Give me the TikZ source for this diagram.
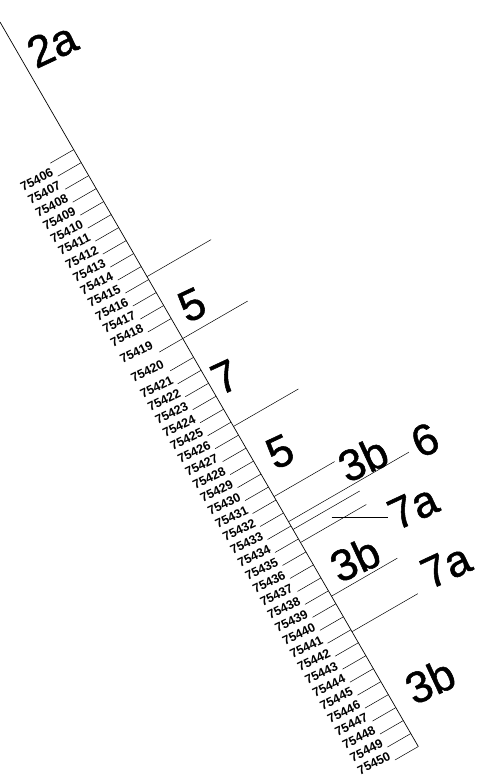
\documentclass[tikz,border=0pt]{standalone}
\usepackage{fontspec}
\setmainfont{Liberation Sans}
\newfontfamily\blockfont[FakeBold=1.2]{Liberation Sans}
\usepackage{tikz}
\usetikzlibrary{positioning}
\tikzset{
	lotnum/.style={font=\bfseries\fontsize{12.5}{12.5}\selectfont, rotate=26, inner sep=0pt}
}
\tikzset{
	blocklabel/.style={font=\blockfont\fontsize{44}{44}\selectfont, rotate=25, inner sep=0pt}
}
\tikzset{
	lotline/.style={line width=0.5pt}
}
\newcommand{\lotno}[1]{\the\numexpr #1\relax}

\begin{document}
\begin{tikzpicture}[x=1pt, y=1pt]
      \useasboundingbox (0,0) rectangle (481,-784);
      \begin{scope}[shift={(0,-22)}, rotate=-60]
      % street edge
      \draw[line width=0.7pt] (0,0) -- (836.6,0);
      % lots 75406 .. 75418
      \foreach \i in {0,...,13}
        \draw[lotline] (147.4+15*\i,0) -- ++(0,-27);
      \foreach \i in {0,...,12}
        \node[lotnum] (lot\i) at (154.9+15*\i,-47) {\lotno{75406+\i}};
      % the two wide lots
      \draw[lotline] (365.5,0) -- ++(0,-27);
      \node[lotnum] (lot13) at (354,-47) {75419};
      \node[lotnum] (lot14) at (376.3,-47) {75420};
      % lots 75421 .. 75450
      \foreach \i in {0,...,30}
        \draw[lotline] (387.2+14.98*\i,0) -- ++(0,-27);
      \foreach \i in {0,...,29}
        \node[lotnum] (lot\the\numexpr15+\i\relax) at (394.7+14.98*\i,-47) {\lotno{75421+\i}};
      % block boundaries across the street
      \foreach \t/\s in {294/74, 365.5/75, 467/75, 548/70, 577/139, 586/77, 601/76, 663/76, 704/76}
        \draw[lotline] (\t,0) -- ++(0,\s);
      % block labels
      \node[blocklabel] (b2a) at (45.9,33.5) {2a};
      \node[blocklabel] (b5) at (341,24.8) {5};
      \node[blocklabel] (b7) at (419.9,17.4) {7};
      \node[blocklabel] (b5x) at (512.1,27.6) {5};
      \node[blocklabel] (b3b) at (559.9,95.9) {3b};
      \node[blocklabel] (b6) at (574.5,159) {6};
      \node[blocklabel] (b7a) at (626.5,115.2) {7a};
      \node[blocklabel] (b3bx) at (642.5,38.9) {3b};
      \node[blocklabel] (b7ax) at (694.1,114.2) {7a};
      \node[blocklabel] (b3by) at (785.7,42.9) {3b};
      \end{scope}
      % leader to the narrow 7a lot
      \draw[lotline] (331.7,-517.3) -- (388.3,-517.3);
    \end{tikzpicture}
\end{document}
